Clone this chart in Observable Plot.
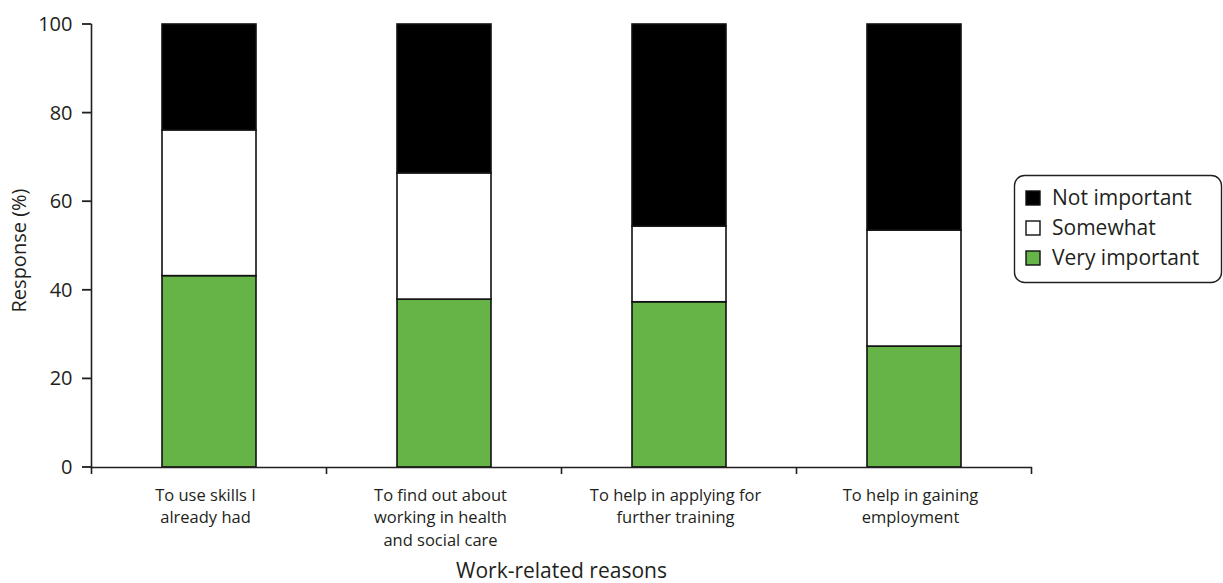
<!DOCTYPE html>
<html>
<head>
<meta charset="utf-8">
<script src="https://cdn.jsdelivr.net/npm/d3@7"></script>
<script src="https://cdn.jsdelivr.net/npm/@observablehq/plot@0.6"></script>
<style>
  html, body { margin: 0; padding: 0; background: #fff; }
  #chart { position: relative; width: 1223px; height: 583px; }
</style>
</head>
<body>
<div id="chart"></div>
<script>
const categories = [
  "To use skills I already had",
  "To find out about working in health and social care",
  "To help in applying for further training",
  "To help in gaining employment"
];
const categoryLabels = [
  "To use skills I\nalready had",
  "To find out about\nworking in health\nand social care",
  "To help in applying for\nfurther training",
  "To help in gaining\nemployment"
];
const series = ["Very important", "Somewhat", "Not important"];
const veryImportant = [43.2, 37.9, 37.3, 27.3];
const somewhat = [32.9, 28.5, 17.1, 26.2];
const notImportant = [23.9, 33.6, 45.6, 46.5];
const seriesColors = ["#66b447", "#ffffff", "#000000"];
const yTicks = [0, 20, 40, 60, 80, 100];
const legendOrder = ["Not important", "Somewhat", "Very important"];
const yTitle = "Response (%)";
const xTitle = "Work-related reasons";

const valuesBySeries = [veryImportant, somewhat, notImportant];
const rows = [];
series.forEach((s, si) => {
  categories.forEach((c, ci) => rows.push({category: c, series: s, value: valuesBySeries[si][ci]}));
});

const W = 1223, H = 583;
const mL = 91, mR = 191, mT = 24, mB = 116;
const textColor = "#231f20";
const fontMain = "'Open Sans', 'Noto Sans', sans-serif";

const chart = Plot.plot({
  width: W,
  height: H,
  marginLeft: mL,
  marginRight: mR,
  marginTop: mT,
  marginBottom: mB,
  style: {fontFamily: fontMain, color: textColor, background: "#fff"},
  x: {domain: categories, paddingInner: 0.6, paddingOuter: 0.3, label: null},
  y: {domain: [0, 100], label: null},
  color: {domain: series, range: seriesColors},
  marks: [
    Plot.barY(rows, {
      x: "category", y: "value", fill: "series",
      order: series,
      stroke: "#111", strokeWidth: 1.6
    }),
    Plot.axisY({
      ticks: yTicks, tickSize: 0, tickPadding: 19, fontSize: 20,
      label: null
    }),
    Plot.axisX({
      tickSize: 0, tickPadding: 17, fontSize: 16.5, lineHeight: 1.37, dx: -4,
      tickFormat: (d) => categoryLabels[categories.indexOf(d)],
      label: null
    }),
    Plot.frame({anchor: "left", stroke: textColor, strokeWidth: 1.6}),
    Plot.ruleY([0], {stroke: textColor, strokeWidth: 1.6})
  ]
});

document.getElementById("chart").appendChild(chart);

const svg = d3.select(chart);
const xs = chart.scale("x");
const ys = chart.scale("y");

// y-axis ticks, from the y scale
const yTickG = svg.append("g").attr("class", "ytick-marks");
yTicks.forEach(t => {
  const yy = ys.apply(t);
  yTickG.append("rect")
    .attr("x", mL - 9).attr("y", yy - 0.9).attr("width", 9).attr("height", 1.8)
    .attr("fill", textColor);
});

// boundary ticks on the x axis, derived from the band scale
const step = xs.step;
const y0 = ys.apply(0);
const bounds = categories.map(c => xs.apply(c) + xs.bandwidth / 2 - step / 2);
bounds.push(bounds[bounds.length - 1] + step);
svg.append("g").selectAll("line").data(bounds).join("line")
  .attr("x1", d => d).attr("x2", d => d)
  .attr("y1", y0).attr("y2", y0 + 7)
  .attr("stroke", textColor).attr("stroke-width", 1.6);

// axis titles
svg.append("text")
  .attr("transform", `translate(19, ${(ys.apply(0) + ys.apply(100)) / 2 + 5}) rotate(-90)`)
  .attr("text-anchor", "middle").attr("dy", "0.35em")
  .attr("font-size", 20).attr("fill", textColor).attr("font-family", fontMain)
  .text(yTitle);
svg.append("text")
  .attr("x", (mL + W - mR) / 2).attr("y", H - 12)
  .attr("text-anchor", "middle").attr("dy", "0.35em")
  .attr("font-size", 21).attr("fill", textColor).attr("font-family", fontMain)
  .text(xTitle);

// legend at the right
const lg = svg.append("g").attr("transform", `translate(${W - mR - 18}, 175)`);
lg.append("rect").attr("x", 0.5).attr("y", 0.5).attr("width", 207).attr("height", 107)
  .attr("rx", 10).attr("fill", "#fff").attr("stroke", textColor).attr("stroke-width", 1.4);
legendOrder.forEach((s, i) => {
  const cy = 23 + i * 30;
  lg.append("rect").attr("x", 12).attr("y", cy - 7).attr("width", 14).attr("height", 14)
    .attr("fill", seriesColors[series.indexOf(s)]).attr("stroke", "#111").attr("stroke-width", 1.4);
  lg.append("text").attr("x", 38).attr("y", cy).attr("dy", "0.35em")
    .attr("text-anchor", "start")
    .attr("font-size", 21).attr("fill", textColor).attr("font-family", fontMain).text(s);
});
</script>
</body>
</html>
